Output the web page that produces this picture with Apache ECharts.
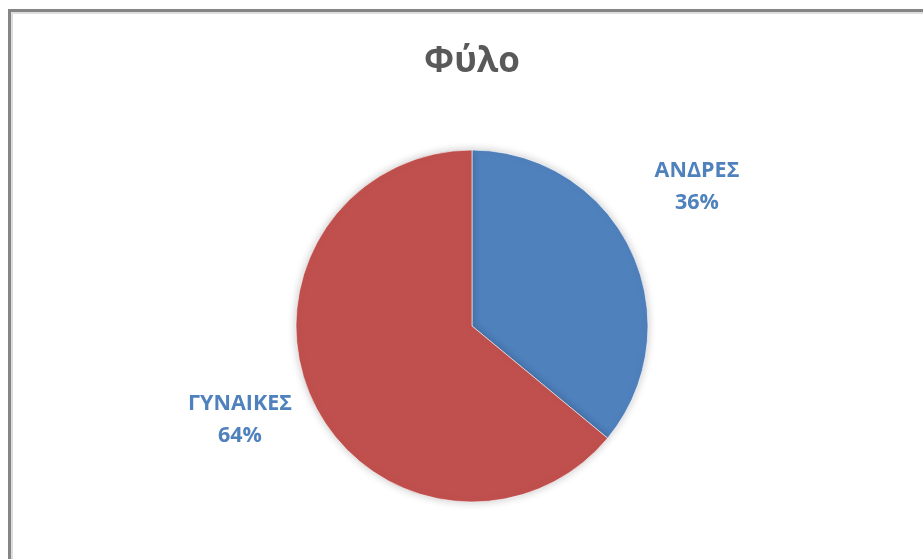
<!DOCTYPE html>
<html>
<head>
<meta charset="utf-8">
<script src="https://cdn.jsdelivr.net/npm/echarts@6/dist/echarts.min.js"></script>
<style>
  html, body { margin: 0; padding: 0; background: #ffffff; }
  #chart { width: 923px; height: 559px; }
</style>
</head>
<body>
<div id="chart"></div>
<script>
// Gender breakdown
const categories = ['ΑΝΔΡΕΣ', 'ΓΥΝΑΙΚΕΣ'];
const shares = [36, 64];
const sliceColors = ['#4F81BD', '#C0504D'];

const chart = echarts.init(document.getElementById('chart'), null, { renderer: 'canvas' });

// Fixed label anchor points beside each slice
const labelSpots = [
  { x: 697, y: 187 },
  { x: 240, y: 420 }
];

chart.setOption({
  animation: false,
  backgroundColor: '#ffffff',
  title: {
    text: 'Φύλο',
    left: 467,
    textAlign: 'center',
    top: 40,
    textStyle: {
      fontFamily: '"Open Sans", "Noto Sans", sans-serif',
      fontSize: 35,
      fontWeight: 'bold',
      color: '#595959'
    }
  },
  graphic: [
    {
      type: 'rect',
      silent: true,
      shape: { x: 9.5, y: 10.5, width: 2000, height: 2000 },
      style: { fill: 'none', stroke: '#858585', lineWidth: 3 }
    },
    {
      type: 'rect',
      silent: true,
      shape: { x: 12, y: 13, width: 2000, height: 2000 },
      style: { fill: 'none', stroke: '#dedede', lineWidth: 2 }
    }
  ],
  series: [
    {
      type: 'pie',
      center: [472, 326],
      radius: 176,
      startAngle: 90,
      clockwise: true,
      data: categories.map((name, i) => ({
        name: name,
        value: shares[i],
        itemStyle: { color: sliceColors[i] }
      })),
      itemStyle: {
        borderColor: 'rgba(255,255,255,0.6)',
        borderWidth: 1,
        shadowBlur: 8,
        shadowColor: 'rgba(0,0,0,0.22)'
      },
      label: {
        show: true,
        position: 'outside',
        formatter: '{b}\n{d}%',
        fontFamily: '"Open Sans", "Noto Sans", sans-serif',
        fontSize: 21.5,
        fontWeight: 'bold',
        color: '#4F81BD',
        lineHeight: 32,
        align: 'center'
      },
      labelLine: { show: false },
      labelLayout: function (params) {
        const spot = labelSpots[params.dataIndex];
        return { x: spot.x, y: spot.y, align: 'center', verticalAlign: 'middle' };
      },
      emphasis: { disabled: true }
    }
  ]
});
</script>
</body>
</html>
